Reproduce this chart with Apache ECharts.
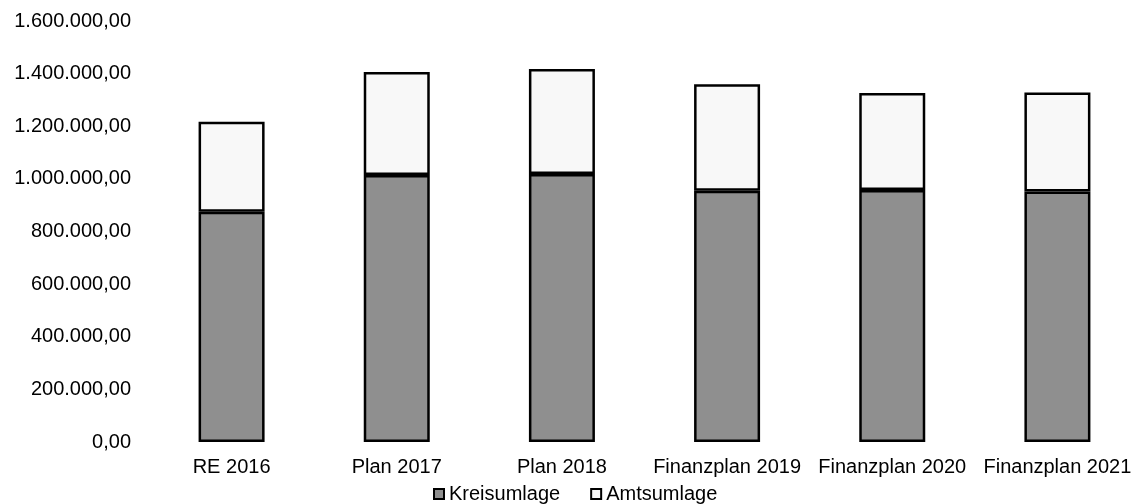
<!DOCTYPE html>
<html>
<head>
<meta charset="utf-8">
<script src="https://cdn.jsdelivr.net/npm/echarts@6/dist/echarts.min.js"></script>
<style>
  html, body { margin: 0; padding: 0; background: #fff; }
  #dom { width: 1140px; height: 504px; }
</style>
</head>
<body>
<div id="dom"></div>
<script>
// Werte
var categories = ['RE 2016', 'Plan 2017', 'Plan 2018', 'Finanzplan 2019', 'Finanzplan 2020', 'Finanzplan 2021'];
var kreisumlage = [875000, 1015000, 1019000, 955000, 958000, 952000];
var amtsumlage = [342000, 391000, 399000, 405000, 368000, 376000];
var yTicks = [0, 200000, 400000, 600000, 800000, 1000000, 1200000, 1400000, 1600000];

function deFormat(v) {
  var s = Math.round(v).toString().replace(/\B(?=(\d{3})+(?!\d))/g, '.');
  return s + ',00';
}

var myChart = echarts.init(document.getElementById('dom'));
var font = '"Liberation Sans", Arial, sans-serif';

var option = {
  backgroundColor: '#fff',
  animation: false,
  textStyle: { fontFamily: font, color: '#000' },
  legend: {
    data: ['Kreisumlage', 'Amtsumlage'],
    left: 428,
    top: 479,
    itemWidth: 10,
    itemHeight: 10,
    itemGap: 30,
    icon: 'rect',
    textStyle: { fontSize: 20, color: '#000', fontFamily: font }
  },
  grid: {
    left: 149,
    top: 21,
    width: 995,
    height: 421
  },
  xAxis: {
    type: 'category',
    data: categories,
    axisLine: { show: false },
    axisTick: { show: false },
    axisLabel: {
      interval: 0,
      margin: 15,
      fontSize: 20,
      color: '#000',
      fontFamily: font
    }
  },
  yAxis: {
    type: 'value',
    min: yTicks[0],
    max: yTicks[yTicks.length - 1],
    interval: 200000,
    axisLine: { show: false },
    axisTick: { show: false },
    splitLine: { show: false },
    axisLabel: {
      margin: 18,
      fontSize: 20,
      color: '#000',
      fontFamily: font,
      formatter: deFormat
    }
  },
  series: [{
    name: 'Kreisumlage',
    type: 'bar',
    stack: 'umlage',
    barWidth: 66,
    data: kreisumlage,
    itemStyle: { color: '#8f8f8f', borderColor: '#000', borderWidth: 2.5 }
  }, {
    name: 'Amtsumlage',
    type: 'bar',
    stack: 'umlage',
    barWidth: 66,
    data: amtsumlage,
    itemStyle: { color: '#f8f8f8', borderColor: '#000', borderWidth: 2.5 }
  }]
};
myChart.setOption(option);
</script>
</body>
</html>
